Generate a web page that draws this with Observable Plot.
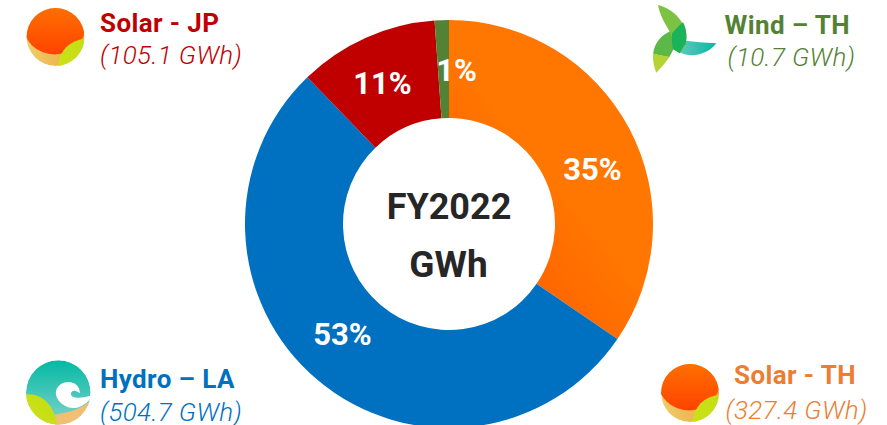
<!DOCTYPE html>
<html>
<head>
<meta charset="utf-8">
<script src="https://cdn.jsdelivr.net/npm/d3@7"></script>
<script src="https://cdn.jsdelivr.net/npm/@observablehq/plot@0.6"></script>
<style>
html,body{margin:0;padding:0;background:#fff;overflow:hidden}
svg{display:block}
</style>
</head>
<body>
<div id="chart"></div>
<script>
const categories = ["Solar - TH", "Hydro – LA", "Solar - JP", "Wind – TH"];
const gwh = [327.4, 504.7, 105.1, 10.7];
const percentLabels = ["35%", "53%", "11%", "1%"];
const valueLabels = ["(327.4 GWh)", "(504.7 GWh)", "(105.1 GWh)", "(10.7 GWh)"];
const centerLabels = ["FY2022", "GWh"];

// layout (pixel-like positions in the x/y scales)
const W = 887, H = 425;
const colors = ["url(#orangeSlice)", "#0070C0", "#C00000", "#548235"];
const textColors = ["#ED7D31", "#0070C0", "#C00000", "#548235"];
const pctX = [592, 342, 382, 456];
const pctY = [179, 344, 93, 80];
const titleX = [733.5, 99.5, 99.5, 724], titleY = [383, 387, 31, 33];
const valueX = [725, 99.5, 99.5, 727], valueY = [418, 420, 63, 65];
const centerX = [448.5, 448];
const centerY = [218, 276];
const centerSize = [36, 37];
const cx = 449, cy = 224, rOuter = 204, rInner = 106;

const rows = categories.map((name, i) => ({name, value: gwh[i], i}));
const pie = d3.pie().value(d => d.value).sort(null)(rows);
const arc = d3.arc().innerRadius(rInner).outerRadius(rOuter);

function donut(index, {x, y}) {
  const g = d3.create("svg:g").attr("aria-label", "donut");
  g.selectAll("path").data(pie).join("path")
    .attr("transform", `translate(${x(cx)},${y(cy)})`)
    .attr("d", arc)
    .attr("fill", d => colors[d.data.i]);
  return g.node();
}

const defs = `
<linearGradient id="orangeSlice" x1="0.75" y1="0.5" x2="0.35" y2="1">
  <stop offset="0.25" stop-color="#FF7600"/><stop offset="1" stop-color="#FF5C00"/>
</linearGradient>
<linearGradient id="sun" x1="0" y1="0" x2="0" y2="1">
  <stop offset="0" stop-color="#FF7F00"/><stop offset="1" stop-color="#FF4300"/>
</linearGradient>
<linearGradient id="sand" x1="0" y1="0" x2="1" y2="0">
  <stop offset="0" stop-color="#F0CC6C"/><stop offset="1" stop-color="#EDA63A"/>
</linearGradient>
<linearGradient id="lime" x1="0" y1="1" x2="1" y2="0">
  <stop offset="0" stop-color="#D2E11A"/><stop offset="1" stop-color="#BEDE10"/>
</linearGradient>
<linearGradient id="sea" x1="0" y1="0" x2="0" y2="1">
  <stop offset="0" stop-color="#03B9A4"/><stop offset="1" stop-color="#83D3CC"/>
</linearGradient>
<linearGradient id="leafTeal" x1="0" y1="0.5" x2="1" y2="0.5">
  <stop offset="0" stop-color="#66CBBE"/><stop offset="1" stop-color="#08B6A4"/>
</linearGradient>
<linearGradient id="leafLeft" x1="0.5" y1="0" x2="0.4" y2="1">
  <stop offset="0.58" stop-color="#5DB947"/><stop offset="0.59" stop-color="#B4D334"/><stop offset="1" stop-color="#B4D334"/>
</linearGradient>
<clipPath id="solarClip"><circle r="29"/></clipPath>
<clipPath id="hydroClip"><circle r="32.3"/></clipPath>
`;

const solarIcon = `
<g clip-path="url(#solarClip)">
  <circle r="29" fill="url(#sand)"/>
  <circle cx="-1" cy="-14.5" r="32" fill="url(#sun)"/>
  <circle cx="30.5" cy="30" r="28" fill="url(#lime)"/>
</g>`;
const hydroIcon = `
<g clip-path="url(#hydroClip)"><circle r="32.3" fill="url(#sea)"/>
  <g transform="scale(0.3333) translate(-115,-112)">
    <path d="M215 128 C195 160 150 172 105 178 L105 215 L225 215 L225 128 Z" fill="#F2BE72"/>
    <path d="M15 118 C65 112 105 150 112 215 L15 215 Z" fill="url(#lime)"/>
    <path d="M217 120 C200 155 160 168 135 152 C105 135 98 105 122 87 C145 74 178 80 180 114 C168 104 156 104 153 114 C151 128 175 134 217 120 Z" fill="#fff"/>
  </g>
</g>`;
const windIcon = `
<g transform="scale(0.3333) translate(-105,-114)">
  <path d="M205 130 C170 128 140 125 112 122 L85 150 C110 172 170 175 205 130 Z" fill="url(#leafTeal)"/>
  <path d="M25 218 C6 170 12 118 68 93 C80 115 78 135 75 150 C62 180 42 200 25 218 Z" fill="url(#leafLeft)"/>
  <path d="M30 15 C70 25 105 55 115 100 C118 125 110 145 95 160 C80 150 72 125 68 100 C52 72 35 45 30 15 Z" fill="#7CC243"/>
  <path d="M105 67 C113 80 118 105 113 130 L95 160 L75 148 C72 130 70 115 72 100 C80 90 92 78 105 67 Z" fill="#1BB25A"/>
</g>`;
const icons = [
  {markup: solarIcon, x: 690, y: 393},
  {markup: hydroIcon, x: 58.3, y: 392.5},
  {markup: solarIcon, x: 55.5, y: 37},
  {markup: windIcon, x: 683, y: 38}
];

function iconMark(index, {x, y}) {
  const g = d3.create("svg:g").attr("aria-label", "icons");
  g.append("defs").html(defs);
  icons.forEach(ic => {
    g.append("g").attr("transform", `translate(${x(ic.x)},${y(ic.y)})`).html(ic.markup);
  });
  return g.node();
}

const font = "Roboto, sans-serif";
const plot = Plot.plot({
  width: W, height: H,
  margin: 0,
  style: {background: "#fff", fontFamily: font},
  x: {domain: [0, W], range: [0, W], axis: null},
  y: {domain: [0, H], range: [0, H], axis: null},
  marks: [
    iconMark,
    donut,
    Plot.text(percentLabels, {
      x: (d, i) => pctX[i], y: (d, i) => pctY[i], text: d => d,
      fill: "#fff", fontSize: 31, fontWeight: 700, textAnchor: "middle", lineAnchor: "bottom"
    }),
    Plot.text([centerLabels[0]], {
      x: () => centerX[0], y: () => centerY[0], text: d => d,
      fill: "#262626", fontSize: centerSize[0], fontWeight: 700, textAnchor: "middle", lineAnchor: "bottom"
    }),
    Plot.text([centerLabels[1]], {
      x: () => centerX[1], y: () => centerY[1], text: d => d,
      fill: "#262626", fontSize: centerSize[1], fontWeight: 700, textAnchor: "middle", lineAnchor: "bottom"
    }),
    Plot.text(categories, {
      className: "legend-title",
      x: (d, i) => titleX[i], y: (d, i) => titleY[i], text: d => d,
      fill: (d, i) => textColors[i], fontSize: 26, fontWeight: 700, textAnchor: "start", lineAnchor: "bottom"
    }),
    Plot.text(valueLabels, {
      className: "legend-value",
      x: (d, i) => valueX[i], y: (d, i) => valueY[i], text: d => d,
      fill: (d, i) => textColors[i], fontSize: 26, fontWeight: 300, fontStyle: "italic", textAnchor: "start", lineAnchor: "bottom"
    })
  ]
});
plot.querySelectorAll(".legend-title").forEach(n => n.style.letterSpacing = "0.4px");
plot.querySelectorAll(".legend-value").forEach(n => n.style.letterSpacing = "0.35px");
document.getElementById("chart").append(plot);
</script>
</body>
</html>
